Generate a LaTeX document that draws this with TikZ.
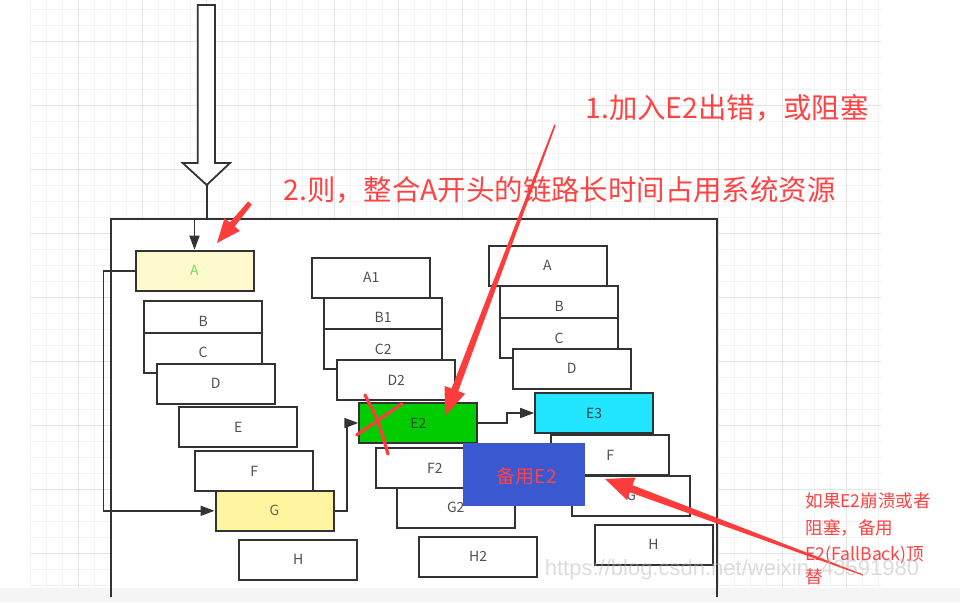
\documentclass[tikz,border=0pt]{standalone}
\usepackage{fontspec}
\setmainfont{Noto Sans CJK SC}
\newfontfamily\wmfont{Liberation Sans}
\usetikzlibrary{arrows.meta,calc}
\definecolor{redc}{RGB}{255,60,60}
\definecolor{redt}{RGB}{255,66,66}
\definecolor{linec}{RGB}{51,51,51}
\definecolor{labc}{RGB}{80,80,80}
\definecolor{yelA}{RGB}{255,249,206}
\definecolor{yelG}{RGB}{255,245,160}
\definecolor{greenE}{RGB}{0,204,0}
\definecolor{cyanE}{RGB}{34,229,255}
\definecolor{blueB}{RGB}{58,88,208}
\definecolor{gridmin}{RGB}{243,243,243}
\definecolor{gridmaj}{RGB}{228,228,228}
\definecolor{bandc}{RGB}{245,245,245}
\newcommand{\taperarrow}[6]{%
  \coordinate (tb) at ($(#2)!#3!(#1)$);
  \fill[redc] ($(#1)!#6!90:(#2)$) -- ($(tb)!#5!90:(#2)$) -- ($(tb)!#4!90:(#2)$) -- (#2)
     -- ($(tb)!#4!-90:(#2)$) -- ($(tb)!#5!-90:(#2)$) -- ($(#1)!#6!-90:(#2)$) -- cycle;}
\begin{document}
\begin{tikzpicture}[x=0.5pt,y=-0.5pt,
  box/.style={draw=linec,line width=1pt,fill=white,minimum width=59pt,minimum height=20pt,
    inner sep=0pt,font=\fontsize{7}{8}\selectfont,text=labc},
  conn/.style={draw=linec,line width=0.8pt,-{Triangle[length=7pt,width=5pt]}},
  plainline/.style={draw=linec,line width=0.8pt},
  gmin/.style={draw=gridmin,line width=0.5pt},
  gmaj/.style={draw=gridmaj,line width=0.5pt},
  bigtitle/.style={anchor=base west,inner sep=0pt,text=redt,font=\fontsize{14.2}{16}\selectfont},
  note/.style={anchor=base west,inner sep=0pt,text=redt,font=\fontsize{8.8}{11}\selectfont}]
\useasboundingbox (0,0) rectangle (960,602);
\fill[white] (0,0) rectangle (960,602);
% grid
\foreach \k in {1,...,54}{\pgfmathsetmacro\gx{14.7+16*\k}\draw[gmin] (\gx,0) -- (\gx,588);}
\foreach \k in {1,...,37}{\pgfmathsetmacro\gy{-6.3+16*\k}\draw[gmin] (30,\gy) -- (882,\gy);}
\foreach \k in {0,...,12}{\pgfmathsetmacro\gx{78.7+64*\k}\draw[gmaj] (\gx,0) -- (\gx,588);}
\foreach \k in {0,...,8}{\pgfmathsetmacro\gy{41.7+64*\k}\draw[gmaj] (30,\gy) -- (882,\gy);}
% frame
\fill[white] (111,219) rectangle (717,588);
\fill[bandc] (0,588) rectangle (960,602);
\draw[linec,line width=1pt] (111,597) -- (111,219) -- (717,219) -- (717,597);
% big hollow arrow
\draw[linec,line width=0.9pt,fill=white] (197.7,5) -- (215,5) -- (215,163) -- (230,163)
  -- (206.7,185) -- (182.7,163) -- (197.7,163) -- cycle;
\coordinate (ent) at (206.7,185);
\coordinate (bend) at (206.7,219);
% column 1
\node[box,fill=yelA,text={rgb,255:red,110;green,220;blue,110}] (A) at (194.5,270.7) {A};
\node[box] (B) at (203.2,321) {B};
\node[box] (C) at (203.2,352.7) {C};
\node[box] (D) at (215.8,383.7) {D};
\node[box] (E) at (238.2,427) {E};
\node[box] (F) at (254.2,471.3) {F};
\node[box,fill=yelG,text={rgb,255:red,110;green,100;blue,70}] (G) at (274.5,510.8) {G};
\node[box] (H) at (298.2,559.7) {H};
% column 2
\node[box] (A1) at (371.3,277.5) {A1};
\node[box] (B1) at (383.2,317.7) {B1};
\node[box] (C2) at (383.2,349.2) {C2};
\node[box] (D2) at (396.2,380.2) {D2};
\node[box,fill=greenE,text={rgb,255:red,30;green,80;blue,30}] (E2) at (418.3,423) {E2};
\node[box] (F2) at (434.8,468) {F2};
\node[box] (G2) at (455.8,507.5) {G2};
\node[box] (H2) at (478.2,556.7) {H2};
% column 3
\node[box] (A3) at (547.5,265.5) {A};
\node[box] (B3) at (559.2,306) {B};
\node[box] (C3) at (559.2,338.3) {C};
\node[box] (D3) at (571.7,368.7) {D};
\node[box,fill=cyanE,text={rgb,255:red,40;green,70;blue,80}] (E3) at (594.2,413) {E3};
\node[box] (F3) at (610.2,455.2) {F};
\node[box] (G3) at (631.2,495.7) {G};
\node[box] (H3) at (653.5,544.7) {H};
% connectors
\coordinate (lx) at (103.3,0);
\coordinate (gx) at (346.7,0);
\coordinate (ex) at (506.7,0);
\draw[plainline] (ent) -- (bend);
\draw[conn] (bend) -| (A.north);
\draw[conn] (A.west) -- (A.west -| lx) |- (G.west);
\draw[conn] (G.east) -- (G.east -| gx) |- (E2.west);
\draw[conn] (E2.east) -- (E2.east -| ex) |- (E3.west);
% backup box
\fill[blueB] (463.3,443.3) rectangle (585,506);
\node[inner sep=0pt,text=redt,font=\fontsize{9.5}{11}\selectfont] (bk) at (526.7,476) {备用E2};
% red cross
\draw[redc,line width=1.6pt,line cap=round] (365,395) .. controls (378,420) .. (388,454);
\draw[redc,line width=1.6pt,line cap=round] (401.7,404) -- (356.7,435);
% texts
\node[bigtitle] (t1) at (585,118.5) {1.加入E2出错，或阻塞};
\node[bigtitle] (t2) at (283,200.5) {2.则，整合A开头的链路长时间占用系统资源};
\node[note] (n1) at (805,507.4) {如果E2崩溃或者};
\node[note] (n2) at (805,534) {阻塞，备用};
\node[note] (n3) at (805,560) {E2(FallBack)顶};
\node[note] (n4) at (805,583.7) {替};
% red arrows
\coordinate (r1s) at (555,125);
\coordinate (r1t) at (445,416);
\coordinate (r2s) at (250,203);
\coordinate (r2t) at (217,243);
\coordinate (r3s) at (863,575);
\coordinate (r3t) at (605,479);
\taperarrow{r1s}{r1t}{14pt}{5.5pt}{1.8pt}{0.4pt}
\taperarrow{r2s}{r2t}{12pt}{5pt}{1.6pt}{1.2pt}
\taperarrow{r3s}{r3t}{14pt}{6pt}{1.9pt}{0.3pt}
% watermark
\node[inner sep=0pt,text=black!30,opacity=0.45,font=\wmfont\fontsize{11}{12}\selectfont] (wm) at (732,570) {https://blog.csdn.net/weixin\_43591980};
\end{tikzpicture}
\end{document}
